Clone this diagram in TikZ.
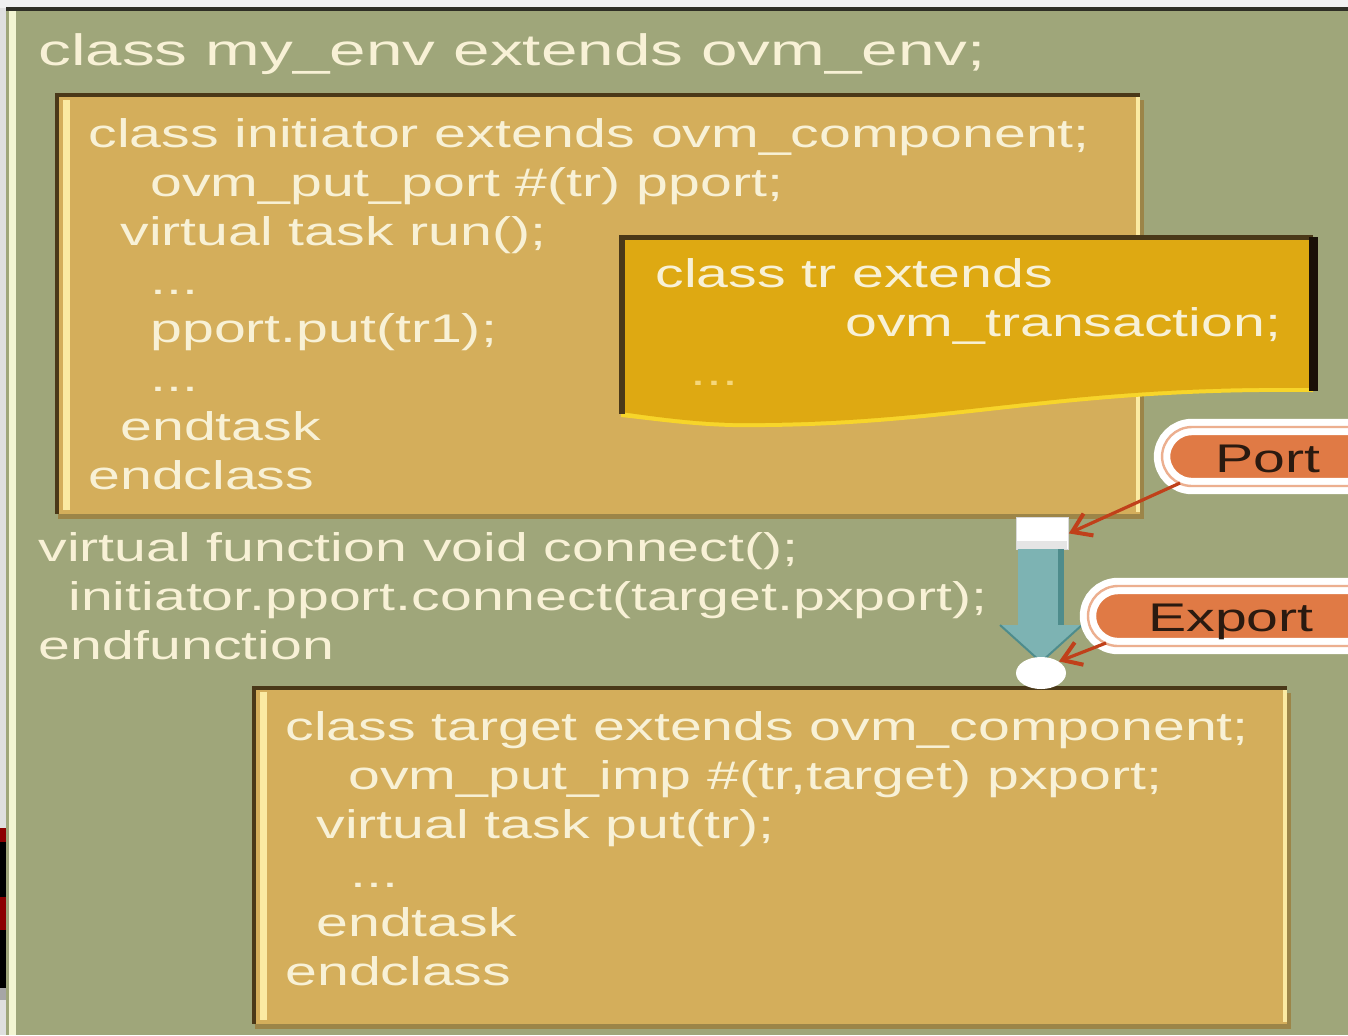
\documentclass[tikz,border=0pt]{standalone}
\usepackage{fontspec}
\newfontfamily\codefont[FakeStretch=1.43]{Liberation Sans}
\newfontfamily\titlefont[FakeStretch=1.49]{Liberation Sans}
\usetikzlibrary{arrows.meta,shapes.geometric}
\definecolor{panelgreen}{HTML}{9FA67A}
\definecolor{paneledge}{HTML}{2E2E25}
\definecolor{lefthl}{HTML}{F3F5D2}
\definecolor{tanbox}{HTML}{D4AE5B}
\definecolor{boxedge}{HTML}{4A3818}
\definecolor{boxhl}{HTML}{FBEAA2}
\definecolor{boxshadow}{HTML}{9C8548}
\definecolor{trbox}{HTML}{DEA912}
\definecolor{trright}{HTML}{1A1008}
\definecolor{trwave}{HTML}{F7D52A}
\definecolor{cream}{HTML}{F8F1D6}
\definecolor{dotyellow}{HTML}{F6D77A}
\definecolor{pillorange}{HTML}{E07A45}
\definecolor{pilltext}{HTML}{2A1A10}
\definecolor{redarrow}{HTML}{C0401A}
\definecolor{tealarrow}{HTML}{7DB3B3}
\definecolor{tealdark}{HTML}{4E8C8C}
\tikzset{
  code/.style={anchor=base west, inner sep=0pt, text=cream, font=\codefont\fontsize{20}{24}\selectfont},
  titletext/.style={anchor=base west, inner sep=0pt, text=cream, font=\titlefont\fontsize{22}{26}\selectfont},
  pill/.style={draw=white, line width=3.5pt, double=pillorange!60!white, double distance=1.2pt, fill=pillorange, rounded corners=15pt},
  pilltxt/.style={inner sep=0pt, anchor=base west, text=pilltext, font=\codefont\fontsize{20}{24}\selectfont},
  callarrow/.style={draw=redarrow, line width=1.6pt, -{Straight Barb[length=9pt,width=12pt,line width=2pt]}},
}
\begin{document}
\begin{tikzpicture}[x=0.5pt,y=-0.5pt]
\useasboundingbox (0,0) rectangle (1348,1035);
\clip (0,0) rectangle (1348,1035);
% background behind slide
\fill[gray!25] (0,0) rectangle (1348,1035);
\fill[gray!12] (0,0) rectangle (1348,8);
\fill[red!55!black] (0,828) rectangle (6,842);
\fill[black] (0,842) rectangle (6,897);
\fill[red!55!black] (0,897) rectangle (6,930);
\fill[black] (0,930) rectangle (6,988);
\fill[gray!70] (0,988) rectangle (6,1000);
% panel
\fill[panelgreen] (6,8) rectangle (1348,1035);
\fill[paneledge] (6,7) rectangle (1348,11);
\fill[lefthl] (9,11) rectangle (16,1035);
% title
\node[titletext] (title) at (38,65) {class my\_env extends ovm\_env;};

% initiator box
\fill[boxshadow] (58,100) rectangle (1144,519);
\fill[tanbox] (55,95) rectangle (1140,514);
\fill[boxedge] (55,93) rectangle (1140,97);
\fill[boxedge] (55,93) rectangle (59,514);
\fill[boxhl] (63,100) rectangle (70,510);
\fill[boxhl] (1136,97) rectangle (1140,512);
\node[code] (i1) at (88,147) {class initiator extends ovm\_component;};
\node[code] (i2) at (150,196) {ovm\_put\_port \#(tr) pport;};
\node[code] (i3) at (120,245) {virtual task run();};
\node[code] (i4) at (150,294) {...};
\node[code] (i5) at (150,342) {pport.put(tr1);};
\node[code] (i6) at (150,391) {...};
\node[code] (i7) at (120,440) {endtask};
\node[code] (i8) at (88,489) {endclass};

% tr box with wavy bottom
\fill[trwave] (621,237) -- (1313,237) -- (1313,392)
  .. controls (1050,389) and (950,429) .. (733,427)
  .. controls (690,426) and (650,420) .. (621,417) -- cycle;
\fill[trbox] (621,237) -- (1313,237) -- (1313,388)
  .. controls (1050,385) and (950,425) .. (733,423)
  .. controls (690,422) and (650,416) .. (621,412) -- cycle;
\fill[boxedge] (619,235) rectangle (1313,240);
\fill[boxedge] (619,235) rectangle (625,414);
\fill[trright] (1309,237) rectangle (1318,391);
\node[code] (t1) at (655,287) {class tr extends};
\node[code] (t2) at (845,336) {ovm\_transaction;};
\node[code, text=dotyellow] (t3) at (690,385) {...};

% connect function
\node[code] (c1) at (38,561) {virtual function void connect();};
\node[code] (c2) at (68,610) {initiator.pport.connect(target.pxport);};
\node[code] (c3) at (38,659) {endfunction};

% target box
\fill[boxshadow] (255,693) rectangle (1291,1029);
\fill[tanbox] (252,688) rectangle (1287,1024);
\fill[boxedge] (252,686) rectangle (1287,690);
\fill[boxedge] (252,686) rectangle (256,1024);
\fill[boxhl] (260,692) rectangle (267,1020);
\fill[boxhl] (1283,690) rectangle (1287,1022);
\node[code] (g1) at (285,740) {class target extends ovm\_component;};
\node[code] (g2) at (348,789) {ovm\_put\_imp \#(tr,target) pxport;};
\node[code] (g3) at (316,838) {virtual task put(tr);};
\node[code] (g4) at (350,887) {...};
\node[code] (g5) at (316,936) {endtask};
\node[code] (g6) at (285,985) {endclass};

% connection arrow
\node[fill=white, draw=gray!30, inner sep=0pt, minimum width=26pt, minimum height=16pt, anchor=north west] (portsq) at (1016,517) {};
\fill[gray!20] (1017,541) rectangle (1067,549);
\fill[tealarrow] (1018,549) rectangle (1064,627);
\fill[tealdark] (1058,549) rectangle (1064,627);
\fill[tealarrow] (1000,625) -- (1082,625) -- (1041,662) -- cycle;
\draw[tealdark, line width=1pt] (1000,625) -- (1041,662) -- (1082,625);
\node[ellipse, fill=white, inner sep=0pt, minimum width=25pt, minimum height=16pt] (expcirc) at (1041,673) {};

% callouts
\draw[pill] (1162,427) rectangle (1400,486);
\node[pilltxt] (port) at (1215,472) {Port};
\draw[pill] (1088,586) rectangle (1400,646);
\node[pilltxt] (export) at (1148,631) {Export};
\coordinate (portfoot) at (1180,483);
\coordinate (exportfoot) at (1106,643);
\draw[callarrow] (portfoot) -- (portsq.east);
\draw[callarrow] (exportfoot) -- (expcirc.north east);
\end{tikzpicture}
\end{document}
